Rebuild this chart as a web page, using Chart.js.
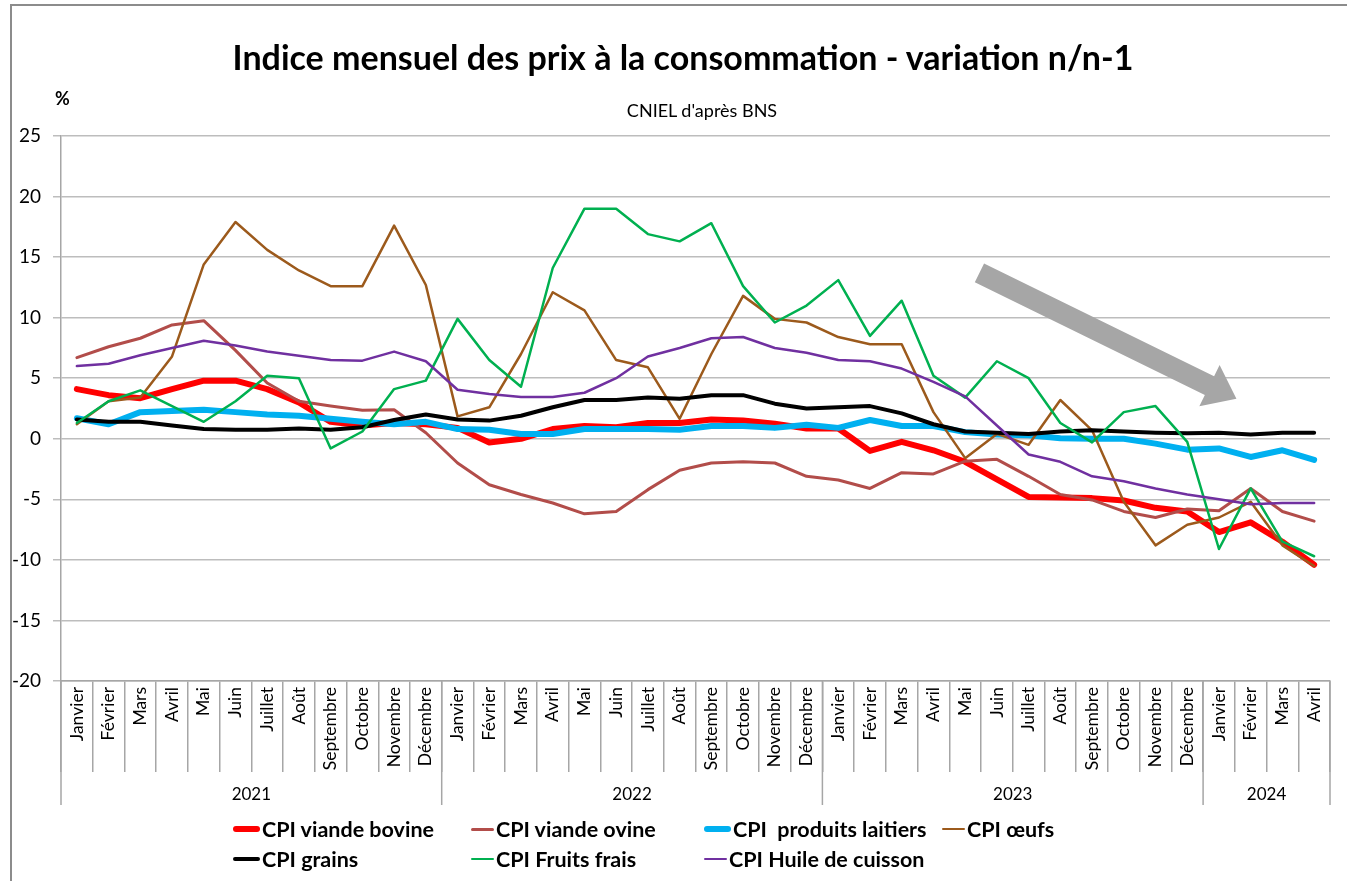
<!DOCTYPE html>
<html lang="fr">
<head>
<meta charset="utf-8">
<title>Indice mensuel des prix à la consommation</title>
<script src="https://cdn.jsdelivr.net/npm/chart.js@4.4.1/dist/chart.umd.min.js"></script>
<style>
    html, body { margin: 0; padding: 0; background: #fff; }
    #wrap { position: relative; width: 1347px; height: 881px; overflow: hidden; font-family: Lato, sans-serif; color: #000; }
    #frame { position: absolute; left: 10px; top: 4px; width: 1400px; height: 900px; border: 2px solid #8c8c8c; box-sizing: border-box; }
    #salesChart { position: absolute; left: 0; top: 0; }
    .txt { position: absolute; white-space: pre; }
    #title { left: 0; width: 1366px; top: 37px; text-align: center; font-weight: bold; font-size: 34px; line-height: 40px; }
    #subtitle { left: 0; width: 1404px; top: 99px; text-align: center; font-size: 18px; line-height: 22px; }
    #unit { left: 55px; top: 87px; font-weight: bold; font-size: 18px; line-height: 22px; }
    .leg { position: absolute; display: flex; align-items: center; font-weight: bold; font-size: 21.5px; line-height: 26px; white-space: pre; }
    .leg span.mk { display: inline-block; border-radius: 4px; margin-right: 2px; }
</style>
</head>
<body>
<div id="wrap">
    <div id="frame"></div>
    <canvas id="salesChart" width="1347" height="881"></canvas>
    <div id="title" class="txt">Indice mensuel des prix à la consommation - variation n/n-1</div>
    <div id="subtitle" class="txt">CNIEL d'après BNS</div>
    <div id="unit" class="txt">%</div>
    <div id="legend"></div>
</div>
<script>
// categories
const monthNames = ['Janvier', 'Février', 'Mars', 'Avril', 'Mai', 'Juin', 'Juillet', 'Août', 'Septembre', 'Octobre', 'Novembre', 'Décembre'];
const years = ['2021', '2022', '2023', '2024'];
const monthsPerYear = [12, 12, 12, 4];
const yTicks = [-20, -15, -10, -5, 0, 5, 10, 15, 20, 25];

// series values (% variation n/n-1), Jan 2021 -> Apr 2024
const viandeBovine = [4.1, 3.6, 3.35, 4.1, 4.8, 4.8, 4.1, 3.0, 1.4, 1.1, 1.3, 1.2,
    0.9, -0.3, 0.0, 0.8, 1.05, 0.95, 1.3, 1.3, 1.6, 1.5, 1.25, 0.85,
    0.85, -1.0, -0.25, -0.95, -1.9, -3.35, -4.8, -4.85, -4.9, -5.1, -5.7, -6.0,
    -7.7, -6.9, -8.5, -10.4];
const viandeOvine = [6.7, 7.6, 8.3, 9.4, 9.75, 7.3, 4.6, 3.1, 2.7, 2.35, 2.4, 0.5,
    -2.0, -3.8, -4.6, -5.3, -6.2, -6.0, -4.2, -2.6, -2.0, -1.9, -2.0, -3.1,
    -3.4, -4.1, -2.8, -2.9, -1.85, -1.7, -3.1, -4.6, -5.05, -6.0, -6.5, -5.8,
    -5.95, -4.1, -6.0, -6.8];
const produitsLaitiers = [1.7, 1.2, 2.2, 2.3, 2.4, 2.2, 2.0, 1.9, 1.65, 1.4, 1.2, 1.4,
    0.8, 0.75, 0.4, 0.4, 0.8, 0.8, 0.8, 0.75, 1.05, 1.05, 0.9, 1.15,
    0.9, 1.55, 1.05, 1.05, 0.55, 0.35, 0.3, 0.05, 0.0, 0.0, -0.4, -0.9,
    -0.8, -1.5, -0.95, -1.75];
const oeufs = [1.2, 3.1, 3.4, 6.8, 14.4, 17.9, 15.6, 13.9, 12.6, 12.6, 17.6, 12.7,
    1.85, 2.6, 7.0, 12.1, 10.6, 6.5, 5.9, 1.65, 7.0, 11.8, 9.9, 9.6,
    8.4, 7.8, 7.8, 2.2, -1.6, 0.4, -0.5, 3.2, 0.7, -5.2, -8.8, -7.1,
    -6.5, -5.2, -8.8, -10.5];
const grains = [1.6, 1.4, 1.4, 1.1, 0.8, 0.75, 0.75, 0.85, 0.75, 0.95, 1.55, 2.0,
    1.6, 1.5, 1.9, 2.6, 3.2, 3.2, 3.4, 3.3, 3.6, 3.6, 2.9, 2.5,
    2.6, 2.7, 2.1, 1.2, 0.6, 0.5, 0.4, 0.6, 0.7, 0.6, 0.5, 0.45,
    0.5, 0.35, 0.5, 0.5];
const fruitsFrais = [1.3, 3.1, 4.0, 2.7, 1.4, 3.1, 5.2, 5.0, -0.8, 0.6, 4.1, 4.8,
    9.9, 6.5, 4.3, 14.1, 19.0, 19.0, 16.9, 16.3, 17.8, 12.6, 9.6, 11.0,
    13.1, 8.5, 11.4, 5.2, 3.4, 6.4, 5.0, 1.3, -0.3, 2.2, 2.7, -0.25,
    -9.1, -4.1, -8.5, -9.7];
const huileCuisson = [6.0, 6.2, 6.9, 7.5, 8.1, 7.7, 7.2, 6.85, 6.5, 6.45, 7.2, 6.4,
    4.05, 3.7, 3.45, 3.45, 3.8, 5.0, 6.8, 7.5, 8.3, 8.4, 7.5, 7.1,
    6.5, 6.4, 5.8, 4.7, 3.5, 1.1, -1.3, -1.9, -3.1, -3.5, -4.1, -4.6,
    -5.0, -5.4, -5.3, -5.3];

const seriesNames = ['CPI viande bovine', 'CPI viande ovine', 'CPI  produits laitiers', 'CPI œufs', 'CPI grains', 'CPI Fruits frais', 'CPI Huile de cuisson'];
const seriesValues = [viandeBovine, viandeOvine, produitsLaitiers, oeufs, grains, fruitsFrais, huileCuisson];
const seriesColors = ['#ff0000', '#b24d4a', '#00b0f0', '#9c5a1c', '#000000', '#00b050', '#7030a0'];
const seriesWidths = [6, 3, 6, 2.5, 4, 2.5, 2.5];

// month labels for all periods
const labels = [];
years.forEach((y, i) => {
    for (let m = 0; m < monthsPerYear[i]; m++) labels.push(monthNames[m]);
});

const axisGray = '#a6a6a6';

// year groups under the month labels + the gray trend arrow
const extrasPlugin = {
    id: 'extras',
    afterDatasetsDraw(chart) {
        const ctx = chart.ctx;
        const xs = chart.scales.x;
        const ys = chart.scales.y;
        // arrow, placed in data units
        const x0 = xs.getPixelForValue(28.45), y0 = ys.getPixelForValue(13.7);
        const x1 = xs.getPixelForValue(36.55), y1 = ys.getPixelForValue(3.3);
        const ang = Math.atan2(y1 - y0, x1 - x0);
        const len = Math.hypot(x1 - x0, y1 - y0);
        const sw = 10.5, hw = 23, hl = 30;
        ctx.save();
        ctx.translate(x0, y0);
        ctx.rotate(ang);
        ctx.beginPath();
        ctx.moveTo(0, -sw);
        ctx.lineTo(len - hl, -sw);
        ctx.lineTo(len - hl, -hw);
        ctx.lineTo(len, 0);
        ctx.lineTo(len - hl, hw);
        ctx.lineTo(len - hl, sw);
        ctx.lineTo(0, sw);
        ctx.closePath();
        ctx.fillStyle = '#a6a6a6';
        ctx.fill();
        ctx.restore();
    },
    afterDraw(chart) {
        const ctx = chart.ctx;
        const xs = chart.scales.x;
        const half = (xs.getPixelForValue(1) - xs.getPixelForValue(0)) / 2;
        ctx.save();
        ctx.strokeStyle = axisGray;
        ctx.lineWidth = 1.5;
        ctx.fillStyle = '#000';
        ctx.font = '17px Lato';
        ctx.textAlign = 'center';
        ctx.textBaseline = 'middle';
        let start = 0;
        years.forEach((y, i) => {
            const n = monthsPerYear[i];
            const a = xs.getPixelForValue(start) - half;
            const b = xs.getPixelForValue(start + n - 1) + half;
            ctx.beginPath();
            ctx.moveTo(a, xs.top);
            ctx.lineTo(a, xs.top + 124);
            if (i === years.length - 1) {
                ctx.moveTo(b, xs.top);
                ctx.lineTo(b, xs.top + 124);
            }
            ctx.stroke();
            ctx.fillText(y, (a + b) / 2, xs.top + 114);
            start += n;
        });
        ctx.restore();
    }
};

const datasets = seriesNames.map((name, i) => ({
    label: name,
    data: seriesValues[i],
    borderColor: seriesColors[i],
    backgroundColor: seriesColors[i],
    borderWidth: seriesWidths[i],
    borderJoinStyle: 'round',
    borderCapStyle: 'round',
    pointRadius: 0,
    tension: 0,
    order: seriesNames.length - i
}));

const ctx = document.getElementById('salesChart').getContext('2d');
const chart = new Chart(ctx, {
    type: 'line',
    data: { labels: labels, datasets: datasets },
    options: {
        responsive: false,
        animation: false,
        layout: { padding: { left: 0, right: 17, top: 136, bottom: 0 } },
        plugins: {
            legend: { display: false },
            tooltip: { enabled: false }
        },
        scales: {
            x: {
                offset: true,
                grid: { drawOnChartArea: false, offset: true, tickLength: 91, color: axisGray, lineWidth: 1.5 },
                border: { color: axisGray, width: 1.5 },
                ticks: { autoSkip: false, minRotation: 90, maxRotation: 90, padding: -85, color: '#000', font: { family: 'Lato', size: 17.5 } },
                afterFit: function (s) { s.height = 200; }
            },
            y: {
                min: -20,
                max: 25,
                afterBuildTicks: function (s) { s.ticks = yTicks.map(v => ({ value: v })); },
                grid: { color: '#bdbdbd', lineWidth: 1.5, tickLength: 8 },
                border: { color: axisGray, width: 1.5 },
                ticks: { padding: 12, color: '#000', font: { family: 'Lato', size: 19 } },
                afterFit: function (s) { s.width = 61; }
            }
        }
    },
    plugins: [extrasPlugin]
});

// legend, 2 rows in 4 columns like the original
const legend = document.getElementById('legend');
const colX = [233, 471, 704, 942];
const rowY = [829, 859];
seriesNames.forEach((name, i) => {
    const item = document.createElement('div');
    item.className = 'leg';
    item.style.left = colX[i % 4] + 'px';
    item.style.top = (rowY[Math.floor(i / 4)] - 13) + 'px';
    const mk = document.createElement('span');
    mk.className = 'mk';
    mk.style.width = (seriesWidths[i] >= 4 ? 27 : 23) + 'px';
    mk.style.height = Math.max(seriesWidths[i], 2.5) + 'px';
    mk.style.background = seriesColors[i];
    item.appendChild(mk);
    const t = document.createElement('span');
    t.textContent = name;
    item.appendChild(t);
    legend.appendChild(item);
});
</script>
</body>
</html>
